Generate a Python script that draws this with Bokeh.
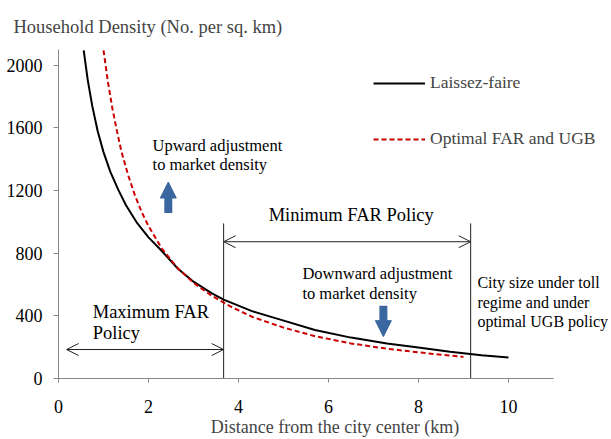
from bokeh.plotting import figure
from bokeh.models import (Range1d, FixedTicker, Label, Arrow, OpenHead, NormalHead,
                          Legend, LegendItem)
from bokeh.embed import file_html
from bokeh.resources import INLINE

# ---- data ----
dist_laissez = [0.56, 0.65, 0.75, 0.87, 1.0, 1.15, 1.33, 1.5, 1.75, 2.0, 2.27, 2.65, 3.0,
                3.4, 3.67, 4.3, 4.93, 5.7, 6.5, 7.3, 8.04, 8.7, 9.4, 10.0]
dens_laissez = [2095, 1905, 1740, 1580, 1445, 1320, 1204, 1106, 991, 901, 822, 702, 618,
                545, 503, 430, 376, 310, 261, 224, 197, 171, 149, 134]

dist_optimal = [1.0, 1.1, 1.2, 1.3, 1.4, 1.55, 1.7, 1.85, 2.0, 2.3, 2.65, 3.0, 3.4, 3.8,
                4.3, 5.0, 5.7, 6.5, 7.3, 8.0, 8.5, 9.0]
dens_optimal = [2095, 1890, 1720, 1578, 1447, 1296, 1168, 1062, 973, 828, 704, 611, 529,
                463, 394, 325, 270, 224, 190, 167, 152, 138]

policy_bounds = [3.67, 9.16]        # Maximum/Minimum FAR boundary, city edge
policy_line_top = [990, 990]
x_ticks = [0, 2, 4, 6, 8, 10]
y_ticks = [0, 400, 800, 1200, 1600, 2000]

FONT = "Liberation Serif"
AXIS_GREY = "#868686"
LINE_DARK = "#222222"
RED = "#CC0000"
BLUE = "#3A67A0"

p = figure(width=611, height=439, x_range=Range1d(0, 12.29), y_range=Range1d(0, 2100),
           output_backend="svg", toolbar_location=None,
           min_border_left=58, min_border_right=0, min_border_top=49, min_border_bottom=60)
p.outline_line_color = None
p.xgrid.visible = False
p.ygrid.visible = False

p.title.text = "Household Density (No. per sq. km)"
p.title.text_font = FONT
p.title.text_font_size = "18.5px"
p.title.text_font_style = "normal"
p.title.align = "left"
p.title.offset = -45
p.title.standoff = 25

for ax in (p.xaxis[0], p.yaxis[0]):
    ax.axis_line_color = AXIS_GREY
    ax.major_tick_line_color = AXIS_GREY
    ax.minor_tick_line_color = None
    ax.major_tick_in = 0
    ax.major_label_text_font = FONT
    ax.major_label_text_font_size = "18px"
    ax.major_label_text_color = "black"

p.xaxis[0].ticker = FixedTicker(ticks=x_ticks)
p.yaxis[0].ticker = FixedTicker(ticks=y_ticks)
p.xaxis[0].bounds = (0, 11)
p.xaxis[0].major_tick_out = 4
p.yaxis[0].major_tick_out = 5
p.xaxis[0].major_label_standoff = 17
p.yaxis[0].major_label_standoff = 11
p.xaxis[0].axis_label = "Distance from the city center (km)"
p.xaxis[0].axis_label_text_font = FONT
p.xaxis[0].axis_label_text_font_size = "18px"
p.xaxis[0].axis_label_text_font_style = "normal"
p.xaxis[0].axis_label_standoff = 1

# policy boundary lines
p.segment(x0=policy_bounds, y0=[0, 0], x1=policy_bounds, y1=policy_line_top,
          line_color=LINE_DARK, line_width=1)

r1 = p.line(dist_laissez, dens_laissez, line_color="black", line_width=2)
r2 = p.line(dist_optimal, dens_optimal, line_color=RED, line_width=2, line_dash="5 3")

legend = Legend(items=[LegendItem(label="Laissez-faire", renderers=[r1]),
                       LegendItem(label="Optimal FAR and UGB", renderers=[r2])],
                location=(315, 229), glyph_width=52, glyph_height=20, label_height=20,
                spacing=35, padding=0, margin=0, border_line_color=None,
                background_fill_alpha=0, label_text_font=FONT,
                label_text_font_size="17.5px", label_standoff=5)
p.add_layout(legend)

# double-headed policy arrows
p.add_layout(Arrow(x_start=0.18, y_start=185, x_end=policy_bounds[0], y_end=185,
                   start=OpenHead(size=12, line_width=1, line_color=LINE_DARK),
                   end=OpenHead(size=12, line_width=1, line_color=LINE_DARK),
                   line_width=1, line_color=LINE_DARK))
p.add_layout(Arrow(x_start=policy_bounds[0], y_start=873, x_end=policy_bounds[1], y_end=873,
                   start=OpenHead(size=12, line_width=1, line_color=LINE_DARK),
                   end=OpenHead(size=12, line_width=1, line_color=LINE_DARK),
                   line_width=1, line_color=LINE_DARK))

# blue block arrows
p.add_layout(Arrow(x_start=2.44, y_start=1056, x_end=2.44, y_end=1254, line_width=8,
                   line_color=BLUE,
                   end=NormalHead(size=16, fill_color=BLUE, line_color=BLUE)))
p.add_layout(Arrow(x_start=7.22, y_start=465, x_end=7.22, y_end=267, line_width=8,
                   line_color=BLUE,
                   end=NormalHead(size=16, fill_color=BLUE, line_color=BLUE)))


def lab(x, y, t, size="18.5px"):
    p.add_layout(Label(x=x, y=y, text=t, text_font=FONT, text_font_size=size,
                       text_baseline="middle", text_align="left", text_color="black"))


lab(2.09, 1489, "Upward adjustment", "16.5px")
lab(2.09, 1368, "to market density", "16.5px")
lab(4.67, 1044, "Minimum FAR Policy")
lab(5.42, 668, "Downward adjustment", "16.5px")
lab(5.42, 541, "to market density", "16.5px")
lab(0.76, 426, "Maximum FAR")
lab(0.76, 293, "Policy")
lab(9.31, 611, "City size under toll", "16px")
lab(9.31, 484, "regime and under", "16px")
lab(9.31, 363, "optimal UGB policy", "16px")

open("out.html", "w").write(file_html(p, INLINE))
